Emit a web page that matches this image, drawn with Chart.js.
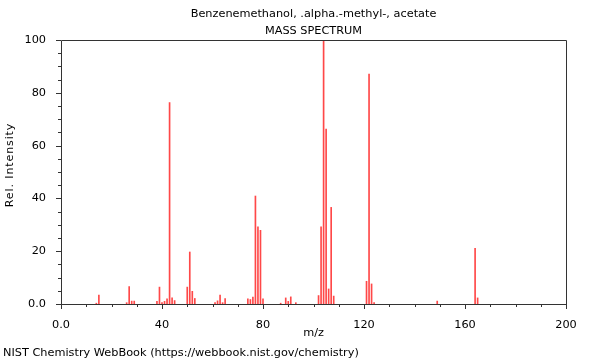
<!DOCTYPE html>
<html>
<head>
<meta charset="utf-8">
<script src="https://cdn.jsdelivr.net/npm/chart.js@4"></script>
<style>
html,body{margin:0;padding:0;background:#fff;}
#wrap{width:600px;height:360px;position:relative;}
</style>
</head>
<body>
<div id="wrap"><canvas id="c" width="600" height="360"></canvas></div>
<script>
const titleLines = ["Benzenemethanol, .alpha.-methyl-, acetate", "MASS SPECTRUM"];
const footerText = "NIST Chemistry WebBook (https://webbook.nist.gov/chemistry)";
const xTitle = "m/z";
const yTitle = "Rel. Intensity";

const mz = [14, 15, 26, 27, 28, 29, 38, 39, 40, 41, 42, 43, 44, 45,
  50, 51, 52, 53, 61, 62, 63, 64, 65, 74, 75, 76, 77, 78, 79, 80,
  87, 89, 90, 91, 93, 102, 103, 104, 105, 106, 107, 108,
  121, 122, 123, 124, 149, 164, 165];
const intensity = [0.3, 3.4, 0.5, 6.6, 1.1, 1.1, 1.0, 6.4, 0.5, 1.0, 2.0, 76.3, 2.3, 1.3,
  6.4, 19.7, 4.8, 2.1, 0.5, 1.2, 3.4, 0.5, 2.1, 2.0, 1.7, 2.6, 40.9, 29.2, 27.9, 2.0,
  0.3, 2.3, 1.0, 2.7, 0.5, 3.2, 29.2, 100, 66.3, 5.7, 36.6, 3.0,
  8.6, 87.1, 7.6, 0.5, 1.1, 21.1, 2.3];

const xMajorTicks = [0, 40, 80, 120, 160, 200];
const xMinorStep = 10;
const yMajorTicks = [0, 20, 40, 60, 80, 100];
const yMinorStep = 5;

const FONT = "DejaVu Sans";
const AXIS = "#333";

const decor = {
  id: 'decor',
  afterDraw(chart) {
    const ctx = chart.ctx;
    const a = chart.chartArea;
    const xs = chart.scales.x, ys = chart.scales.y;
    ctx.save();
    ctx.strokeStyle = AXIS;
    ctx.lineWidth = 1;
    ctx.beginPath();
    ctx.rect(Math.round(a.left) + 0.5, Math.round(a.top) + 0.5,
      Math.round(a.right - a.left), Math.round(a.bottom - a.top));
    ctx.stroke();
    ctx.beginPath();
    for (let v = xs.min; v <= xs.max; v += xMinorStep) {
      const p = Math.round(xs.getPixelForValue(v)) + 0.5;
      const len = xMajorTicks.includes(v) ? 5 : 3;
      ctx.moveTo(p, a.bottom);
      ctx.lineTo(p, a.bottom + len);
    }
    for (let v = ys.min; v <= ys.max; v += yMinorStep) {
      const p = Math.round(ys.getPixelForValue(v)) + 0.5;
      const len = yMajorTicks.includes(v) ? 5 : 3;
      ctx.moveTo(a.left, p);
      ctx.lineTo(a.left - len, p);
    }
    ctx.stroke();
    ctx.fillStyle = "#000";
    ctx.font = "11.3px '" + FONT + "'";
    ctx.textAlign = "center";
    ctx.textBaseline = "middle";
    const cx = (a.left + a.right) / 2;
    ctx.fillText(titleLines[0], cx, 14);
    ctx.fillText(titleLines[1], cx, 31);
    ctx.textAlign = "left";
    ctx.fillText(footerText, 3, 353);
    // y axis title
    ctx.save();
    ctx.translate(10, 165);
    ctx.rotate(-Math.PI / 2);
    ctx.font = "11px '" + FONT + "'";
    ctx.letterSpacing = "0.9px";
    ctx.textAlign = "center";
    ctx.fillText(yTitle, 0, 0);
    ctx.restore();
    ctx.restore();
  }
};

new Chart(document.getElementById('c'), {
  type: 'bar',
  data: {
    datasets: [{
      data: mz.map((m, i) => ({x: m, y: intensity[i]})),
      backgroundColor: 'rgba(255,40,40,0.85)',
      borderWidth: 0,
      barThickness: 1,
      grouped: false
    }]
  },
  options: {
    responsive: false,
    animation: false,
    layout: {padding: {left: 0, right: 34, top: 40, bottom: 16}},
    plugins: {legend: {display: false}, tooltip: {enabled: false}, title: {display: false}},
    scales: {
      x: {
        type: 'linear', min: 0, max: 200, offset: false,
        afterBuildTicks: s => { s.ticks = xMajorTicks.map(v => ({value: v})); },
        afterFit: s => { s.height = 40; },
        ticks: {
          callback: v => v === 0 ? '0.0' : String(v),
          font: {family: FONT, size: 11.3}, color: '#000', padding: 6, maxRotation: 0
        },
        grid: {display: false, offset: false},
        border: {display: false},
        title: {display: true, text: xTitle, font: {family: FONT, size: 11.3}, color: '#000', padding: {top: 4, bottom: 4}}
      },
      y: {
        min: 0, max: 100,
        afterBuildTicks: s => { s.ticks = yMajorTicks.map(v => ({value: v})); },
        afterFit: s => { s.width = 61; },
        ticks: {
          callback: v => v === 0 ? '0.0' : String(v),
          font: {family: FONT, size: 11.3}, color: '#000', padding: 7
        },
        grid: {display: false},
        border: {display: false},
        title: {display: false}
      }
    }
  },
  plugins: [decor]
});
</script>
</body>
</html>
